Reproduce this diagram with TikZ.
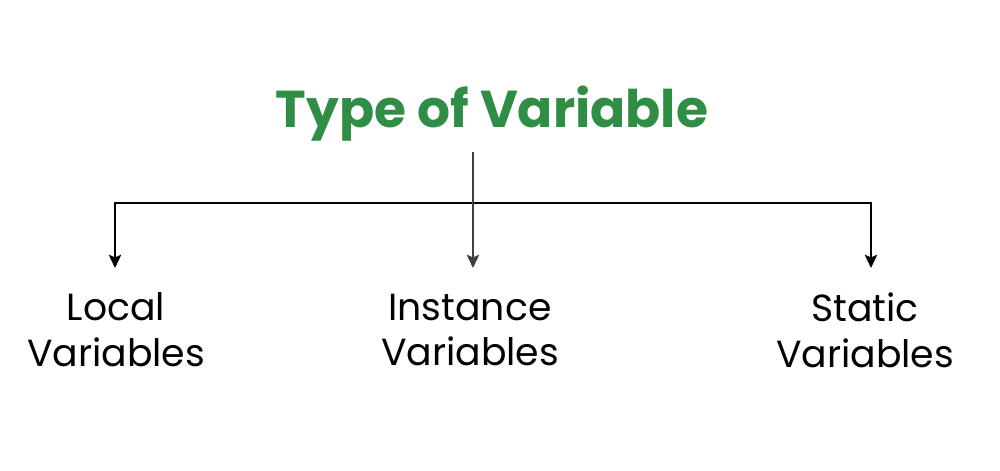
\documentclass[tikz,border=0pt]{standalone}
\usepackage{fontspec}
\setmainfont{Poppins}
\usepackage{tikz}
\usepackage{xcolor}
\usetikzlibrary{arrows.meta}
\definecolor{gfg-green}{HTML}{2F8D46}
\tikzset{
    type-title/.style = {text=gfg-green, font=\fontsize{29.5}{34}\selectfont\bfseries, inner sep=0pt},
    var-label/.style = {align=center, font=\fontsize{21.5}{26}\selectfont, inner sep=0pt},
    tree-link/.style = {draw=black, line width=1.6pt, -{Stealth[length=7.5pt,width=7pt,inset=1.5pt]}},
}

\begin{document}
\begin{tikzpicture}[x=0.02cm, y=-0.02cm]
\useasboundingbox (0,0) rectangle (1000,470);
\node [type-title] (title) at (492,114) {Type of Variable};
\coordinate (stem) at (473,152);
\coordinate (bar) at (473,203);
\coordinate (tip-local) at (115,268);
\coordinate (tip-instance) at (473,268);
\coordinate (tip-static) at (871,268);
\draw[tree-link] (bar) -| (tip-local);
\draw[tree-link] (bar) -| (tip-static);
\draw[tree-link, draw=black!75] (stem) -- (tip-instance);
\node [var-label] (local) at (116,330) {Local\\Variables};
\node [var-label] (instance) at (470,330) {Instance\\Variables};
\node [var-label] (static) at (865,330) {Static\\Variables};
\end{tikzpicture}
\end{document}
